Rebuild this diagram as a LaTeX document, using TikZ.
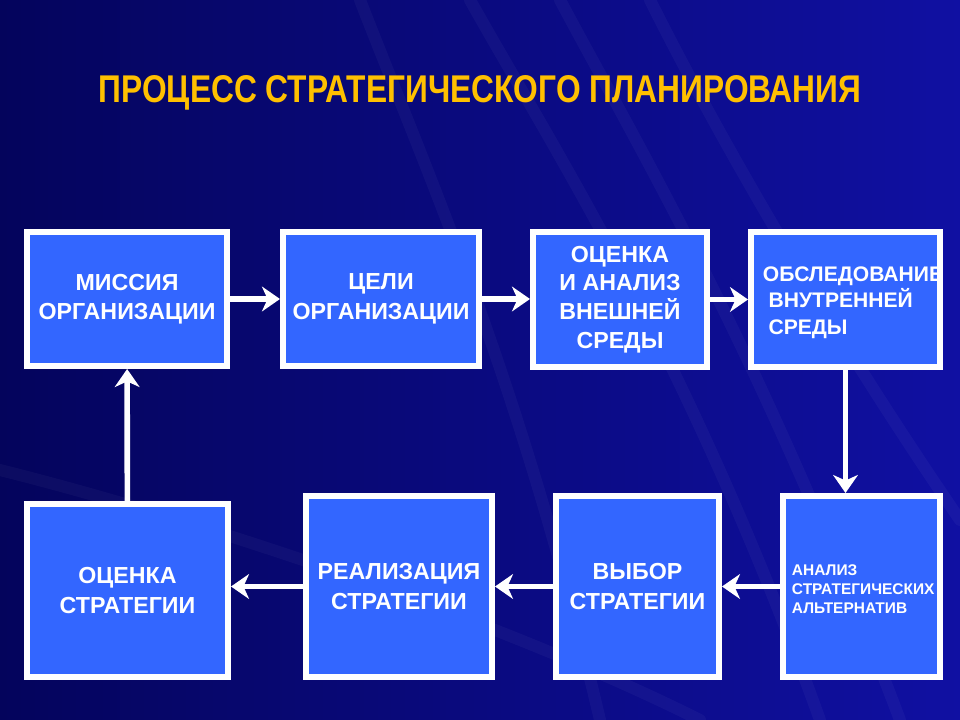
\documentclass[tikz,border=0pt]{standalone}
\usepackage{fontspec}
\setmainfont{Liberation Sans}
\newfontfamily\titlefont[FakeStretch=0.82]{Liberation Sans Bold}
\usetikzlibrary{arrows.meta}

\definecolor{bgdark}{HTML}{04045C}
\definecolor{bglight}{HTML}{1010A2}
\definecolor{boxblue}{HTML}{3366FF}
\definecolor{titlegold}{HTML}{FFC000}

\begin{document}
\begin{tikzpicture}[x=0.025cm,y=-0.025cm,
    stagebox/.style={draw=white,line width=0.15cm,fill=boxblue,text=white,
      font=\bfseries\fontsize{16.5}{21}\selectfont,align=center,inner sep=2pt,
      execute at begin node=\rule{0pt}{1em}},
    smallbox/.style={stagebox,align=left,inner sep=0pt},
    arr/.style={draw=white,line width=0.14cm,
      -{Stealth[length=0.45cm,width=0.62cm,inset=0.14cm]}},
    streak/.style={white,opacity=0.035,line width=0.3cm,line cap=round}]
  \useasboundingbox (0,0) rectangle (960,720);
  \shade[shading angle=120,left color=bgdark,right color=bglight] (0,0) rectangle (960,720);
  \draw[streak] (360,0) .. controls (430,180) and (520,380) .. (600,720);
  \draw[streak] (470,0) .. controls (560,160) and (690,360) .. (820,720);
  \draw[streak] (560,0) .. controls (640,150) and (760,350) .. (900,720);
  \draw[streak] (650,0) .. controls (720,140) and (830,330) .. (960,520);
  \draw[streak] (0,470) .. controls (200,520) and (500,620) .. (700,720);

  \node[text=titlegold,font=\titlefont\fontsize{27.5}{32}\selectfont] (title) at (480,93)
    {ПРОЦЕСС СТРАТЕГИЧЕСКОГО ПЛАНИРОВАНИЯ};

  \node[stagebox,minimum width=5cm,minimum height=3.35cm] (b1) at (127,299)
    {МИССИЯ\\ОРГАНИЗАЦИИ};
  \node[stagebox,minimum width=4.9cm,minimum height=3.35cm] (b2) at (381,299)
    {ЦЕЛИ\\ОРГАНИЗАЦИИ};
  \node[stagebox,minimum width=4.35cm,minimum height=3.375cm,
    font=\bfseries\fontsize{16.5}{20.5}\selectfont] (b3) at (620,299.5)
    {ОЦЕНКА\\И АНАЛИЗ\\ВНЕШНЕЙ\\СРЕДЫ};
  \node[smallbox,minimum width=4.725cm,minimum height=3.375cm,text width=4.125cm,
    font=\bfseries\fontsize{15}{19}\selectfont] (b4) at (845.5,299.5)
    {ОБСЛЕДОВАНИЕ\\\hspace{4pt}ВНУТРЕННЕЙ\\\hspace{4pt}СРЕДЫ};

  \node[stagebox,minimum width=5.025cm,minimum height=4.325cm] (b5) at (127.5,590.5)
    {ОЦЕНКА\\СТРАТЕГИИ};
  \node[stagebox,minimum width=4.65cm,minimum height=4.525cm] (b6) at (399,586.5)
    {РЕАЛИЗАЦИЯ\\СТРАТЕГИИ};
  \node[stagebox,minimum width=4.075cm,minimum height=4.525cm] (b7) at (637.5,586.5)
    {ВЫБОР\\СТРАТЕГИИ};
  \node[smallbox,minimum width=3.925cm,minimum height=4.525cm,text width=3.475cm,
    font=\bfseries\fontsize{11}{13.5}\selectfont] (b8) at (861.5,586.5)
    {АНАЛИЗ\\СТРАТЕГИЧЕСКИХ\\АЛЬТЕРНАТИВ};

  \draw[arr] (b1) -- (b2);
  \draw[arr] (b2.east) -- (b2.east -| b3.west);
  \draw[arr] (b3) -- (b4);
  \draw[arr] (b4.south) -- (b4.south |- b8.north);
  \draw[arr] (b8) -- (b7);
  \draw[arr] (b7) -- (b6);
  \draw[arr] (b6.west) -- (b6.west -| b5.east);
  \draw[arr] (b5) -- (b1);
\end{tikzpicture}
\end{document}
